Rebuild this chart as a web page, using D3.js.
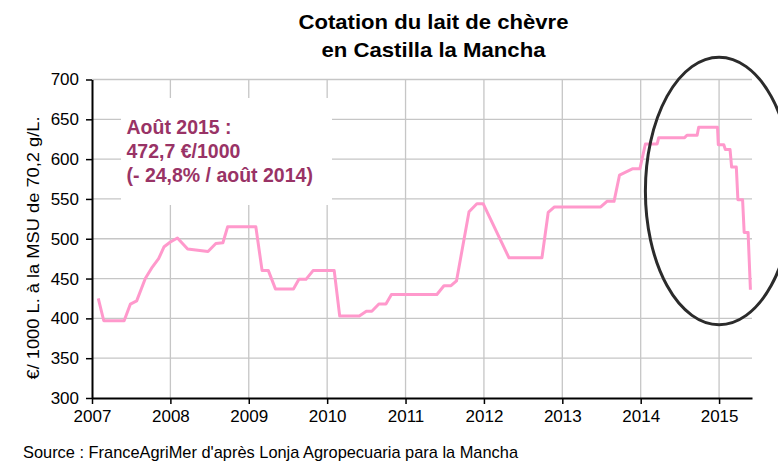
<!DOCTYPE html>
<html>
<head>
<meta charset="utf-8">
<script src="https://cdn.jsdelivr.net/npm/d3@7"></script>
<style>
  html, body { margin: 0; padding: 0; background: #ffffff; }
  svg { display: block; font-family: "Liberation Sans", Arial, sans-serif; }
</style>
</head>
<body>
<svg id="chart" width="778" height="461"></svg>
<script>
// ---- Data ----
const titleLines = ["Cotation du lait de chèvre", "en Castilla la Mancha"];
const yAxisTitle = "€/ 1000 L. à la MSU de 70,2 g/L.";
const sourceText = "Source : FranceAgriMer d'après Lonja Agropecuaria para la Mancha";
const noteLines = ["Août 2015 :", "472,7 €/1000", "(- 24,8% / août 2014)"];

const yearTicks = [2007, 2008, 2009, 2010, 2011, 2012, 2013, 2014, 2015];
const valueTicks = [300, 350, 400, 450, 500, 550, 600, 650, 700];

// dates as decimal years
const dates = [
  2007.08, 2007.15, 2007.41, 2007.49, 2007.57, 2007.68, 2007.76, 2007.85, 2007.92,
  2008.00, 2008.09, 2008.22, 2008.48, 2008.58, 2008.67, 2008.73,
  2009.09, 2009.17, 2009.25, 2009.34, 2009.57, 2009.64, 2009.73, 2009.82,
  2010.09, 2010.16, 2010.41, 2010.50, 2010.57, 2010.66, 2010.75, 2010.82,
  2011.40, 2011.49, 2011.58, 2011.65, 2011.81, 2011.91, 2011.99,
  2012.32, 2012.74, 2012.82, 2012.90,
  2013.49, 2013.57, 2013.66, 2013.73, 2013.90, 2013.99,
  2014.06, 2014.21, 2014.23, 2014.56, 2014.59, 2014.72, 2014.74, 2014.98, 2014.99,
  2015.06, 2015.08, 2015.14, 2015.16, 2015.22, 2015.24, 2015.30, 2015.32, 2015.37, 2015.40
];
const prices = [
  425, 397, 397, 418, 422, 450, 463, 475, 490,
  496, 501, 487, 484, 494, 495, 515,
  515, 460, 460, 437, 437, 449, 449, 460,
  460, 403, 403, 409, 409, 418, 418, 430,
  430, 441, 441, 447, 534, 544, 544,
  476, 476, 533, 540,
  540, 547, 547, 580, 588, 588,
  619, 619, 627, 627, 630, 630, 640, 640, 618,
  618, 612, 612, 590, 590, 549, 549, 508, 508, 436
];

// highlighted period (ellipse) in data units
const highlightCenter = [2015.0, 560];
const highlightRadii = [0.94, 168]; // years, value units

// ---- Drawing ----
const svg = d3.select("#chart");
const x = d3.scaleLinear().domain([2007, 2015.42]).range([92, 752]);
const y = d3.scaleLinear().domain([300, 700]).range([398, 79.5]);

const grid = svg.append("g");
grid.selectAll("line.h").data(valueTicks.filter(v => v > 300)).join("line")
  .attr("x1", x(2007)).attr("x2", x.range()[1])
  .attr("y1", d => y(d)).attr("y2", d => y(d))
  .attr("stroke", "#c6c6c6").attr("stroke-width", 1.3);
grid.selectAll("line.v").data(yearTicks.filter(v => v > 2007)).join("line")
  .attr("x1", d => x(d)).attr("x2", d => x(d))
  .attr("y1", y(700)).attr("y2", y(300))
  .attr("stroke", "#c6c6c6").attr("stroke-width", 1.3);

// annotation white box
svg.append("rect")
  .attr("x", 121).attr("y", 98).attr("width", 211).attr("height", 107)
  .attr("fill", "#ffffff");

// price line
const pts = dates.map((d, i) => [d, prices[i]]);
svg.append("path")
  .datum(pts)
  .attr("fill", "none")
  .attr("stroke", "#ff99cc")
  .attr("stroke-width", 3)
  .attr("stroke-linejoin", "round")
  .attr("d", d3.line().x(d => x(d[0])).y(d => y(d[1])));

// axes
const yAxis = svg.append("g").attr("transform", `translate(${x(2007)},0)`)
  .call(d3.axisLeft(y).tickValues(valueTicks).tickSize(6).tickSizeOuter(0).tickPadding(7).tickFormat(d3.format("d")));
const xAxis = svg.append("g").attr("transform", `translate(0,${y(300)})`)
  .call(d3.axisBottom(x).tickValues(yearTicks).tickSize(6).tickSizeOuter(0).tickPadding(6).tickFormat(d3.format("d")));
[yAxis, xAxis].forEach(g => {
  g.select(".domain").attr("stroke", "#000").attr("stroke-width", 2);
  g.selectAll(".tick line").attr("stroke", "#000").attr("stroke-width", 1.5);
  g.selectAll(".tick text").attr("fill", "#000")
    .style("font-size", "17px").style("font-family", "'Liberation Sans', Arial, sans-serif");
});

// ellipse highlight
svg.append("ellipse")
  .attr("cx", x(highlightCenter[0])).attr("cy", y(highlightCenter[1]))
  .attr("rx", x(2007 + highlightRadii[0]) - x(2007))
  .attr("ry", y(300) - y(300 + highlightRadii[1]))
  .attr("fill", "none").attr("stroke", "#2b2b2b").attr("stroke-width", 3);

// title
const titleLens = [270, 224];
svg.append("g").selectAll("text").data(titleLines).join("text")
  .attr("x", 433.5).attr("y", (d, i) => 28.5 + i * 28.5)
  .attr("text-anchor", "middle")
  .attr("textLength", (d, i) => titleLens[i])
  .attr("lengthAdjust", "spacingAndGlyphs")
  .style("font-size", "21px").style("font-weight", "bold").attr("fill", "#000")
  .text(d => d);

// annotation text
svg.append("g").selectAll("text").data(noteLines).join("text")
  .attr("x", 126.5).attr("y", (d, i) => 133.5 + i * 24)
  .style("font-size", "19.5px").style("font-weight", "bold")
  .attr("fill", "#993366")
  .text(d => d);

// y axis title
svg.append("text")
  .attr("transform", "translate(39,248) rotate(-90)")
  .attr("text-anchor", "middle")
  .attr("textLength", 263).attr("lengthAdjust", "spacingAndGlyphs")
  .style("font-size", "17px").attr("fill", "#000")
  .text(yAxisTitle);

// source
svg.append("text")
  .attr("x", 23).attr("y", 458)
  .attr("textLength", 495).attr("lengthAdjust", "spacingAndGlyphs")
  .style("font-size", "17px").attr("fill", "#000")
  .text(sourceText);
</script>
</body>
</html>
